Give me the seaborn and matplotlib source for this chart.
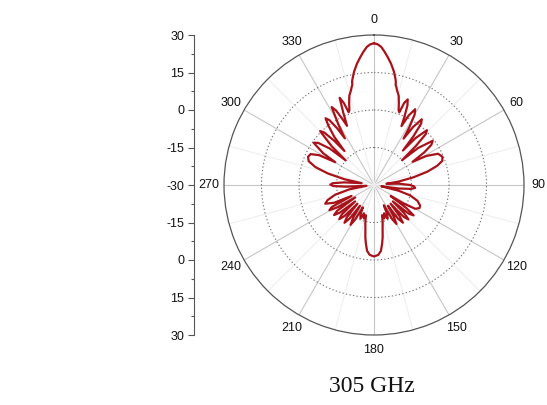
import numpy as np
import pandas as pd
import matplotlib
matplotlib.use("Agg")
import matplotlib.pyplot as plt
import seaborn as sns

# Measured radiation pattern at 305 GHz: angle (deg, clockwise from boresight) and gain (dB)
angle_right = [
    0, 1.5, 3, 4.5, 6, 8, 10, 11.5, 12, 12.2, 13, 13.5, 15.5, 17, 18.2, 19.2, 20.2, 21.5, 22.8, 24, 25,
    26.5, 28.5, 30, 31.5, 32.5, 34, 36, 37.5, 39, 40, 41.5, 44, 45.5, 47, 48.5, 50, 53, 55, 57, 59,
    61, 64, 67.5, 70.5, 73, 76, 79, 82, 84.5, 87, 90, 92, 94, 96, 98, 100,
    103, 106, 110, 114, 117, 120, 122, 123.5, 125.5, 127.5, 129.5, 131, 133, 135, 137, 138.5,
    140.5, 142.5, 144.5, 146, 148, 150, 152, 154, 156, 158, 160.5, 163, 165, 167, 169, 170.5,
    172, 174, 176.5,
]
gain_right = [
    26.7, 26.3, 25.3, 23.5, 21.6, 19.0, 16.0, 13.2, 12.0, 11.0, 10.0, 9.2, 7.0, 4.0, 1.5, 0.8, 5.0, 6.8, 4.5, 0.0, -4.0,
    1.0, 4.5, 2.5, -3.0, -8.0, -2.0, 2.5, 1.0, -5.0, -12.0, -5.0, 0.5, -1.0, -7.0, -15.0, -7.0, -0.6, -2.0, -6.0, -12.0,
    -6.0, -1.5, -0.4, -1.0, -3.5, -8.0, -14.0, -20.0, -25.0, -20.0, -15.5, -14.0, -13.5, -15.0, -20.0, -27.0,
    -20.0, -15.0, -11.5, -9.8, -9.6, -11.0, -16.0, -22.0, -14.0, -10.0, -12.0, -20.0, -13.5, -10.5, -12.5, -20.0,
    -14.0, -11.0, -13.5, -20.0, -15.0, -12.0, -14.5, -21.0, -17.0, -15.5, -18.0, -16.0, -17.5, -14.6, -12.0, -9.0,
    -6.5, -3.5, -2.0,
]
angle_left = [
    180, 183.5, 186, 188, 189.5, 191, 193, 195, 197, 199.5, 202, 204.5, 206.5, 208.5, 210.5, 212.5,
    214, 216, 218, 220, 221.5, 223.5, 225.5, 227.5, 229, 231, 233, 235, 236.5, 238.5, 240.5, 242.5,
    244, 246, 249, 252, 256, 260, 264, 266.5, 268.5, 270.5, 272.5, 275, 278.5, 281, 284, 287, 290,
    293.2, 296, 298.5, 300.5, 302, 305, 307, 309.5, 311, 312.5, 315, 316.5, 318, 319,
    320.5, 322.5, 324, 325.5, 327, 328, 329.5, 331.5, 333, 334.5, 335.5, 337, 338.5, 339.8, 340.8,
    341.8, 343, 344.5, 346.5, 347, 347.8, 348, 348.5, 350, 352, 354, 355.5, 357, 358.5, 360,
]
gain_left = [
    -1.4, -2.0, -3.5, -6.5, -9.0, -12.0, -14.6, -17.5, -16.0, -18.0, -15.5, -17.0, -20.0, -14.5, -11.5, -14.5,
    -20.0, -13.5, -10.8, -13.0, -20.0, -13.0, -10.5, -12.5, -20.0, -12.5, -10.0, -12.0, -21.0, -13.0, -9.5, -11.0,
    -20.0, -12.5, -9.1, -10.5, -14.0, -20.0, -27.0, -19.0, -13.8, -12.5, -13.5, -18.0, -25.0, -18.0, -11.0, -5.5, -2.2,
    -1.3, -1.8, -5.0, -12.0, -6.0, -0.5, -2.0, -7.0, -15.0, -7.0, 0.5, -1.0, -6.0, -12.0,
    -5.0, 0.0, 3.0, 1.5, -3.0, -8.0, -2.0, 5.5, 3.5, -1.0, -4.0, 1.5, 7.5, 5.0, 0.8,
    1.5, 4.0, 7.0, 9.2, 10.0, 11.0, 12.2, 13.2, 16.0, 19.0, 21.6, 23.5, 25.3, 26.3, 26.7,
]

theta_labels = ["0", "30", "60", "90", "120", "150", "180", "210", "240", "270", "300", "330"]
ring_levels = [-15, 0, 15]
gain_range = (-30, 30)
scale_labels = ["30", "15", "0", "-15", "-30", "-15", "0", "15", "30"]
caption = "305 GHz"

sns.set_style("white")
plt.rcParams["font.family"] = ["Liberation Sans", "DejaVu Sans"]

pattern = pd.DataFrame({
    "theta": np.deg2rad(angle_right + angle_left),
    "gain": gain_right + gain_left,
})

W, H = 547, 405
fig = plt.figure(figsize=(W / 100, H / 100), dpi=100)

# polar pattern panel
ax = fig.add_axes([224 / W, 70 / H, 300 / W, 300 / H], projection="polar")
ax.set_theta_zero_location("N")
ax.set_theta_direction(-1)
sns.lineplot(data=pattern, x="theta", y="gain", sort=False, estimator=None,
             color="#a8121a", linewidth=1.6, ax=ax)
ax.set_ylim(*gain_range)
ax.set_yticks(ring_levels)
ax.set_yticklabels([])
ax.set_xticks(np.deg2rad(np.arange(0, 360, 30)))
ax.set_xticklabels(theta_labels)
ax.set_xticks(np.deg2rad(np.arange(15, 360, 30)), minor=True)
ax.xaxis.grid(True, which="major", color="#c6c6c6", linewidth=0.8, linestyle="-")
ax.xaxis.grid(True, which="minor", color="#ededed", linewidth=0.7, linestyle="-")
ax.yaxis.grid(True, color="#777777", linewidth=0.8, linestyle=(0, (1.2, 2)))
ax.spines["polar"].set_color("#555555")
ax.spines["polar"].set_linewidth(0.9)
ax.tick_params(axis="x", which="both", length=0, pad=3.7, labelsize=9, labelcolor="#111111")
ax.set_xlabel("")
ax.set_ylabel("")

# linear gain scale along the left of the pattern
sax = fig.add_axes([194 / W, 70 / H, 0.0005, 300 / H])
sax.set_ylim(-60, 60)
sax.set_xticks([])
for side in ["top", "right", "bottom"]:
    sax.spines[side].set_visible(False)
sax.spines["left"].set_color("#555555")
sax.spines["left"].set_linewidth(0.8)
sax.set_yticks(np.arange(60, -61, -15))
sax.set_yticklabels(scale_labels)
sax.set_yticks(np.arange(-52.5, 60, 15), minor=True)
sax.tick_params(axis="y", which="major", left=True, length=4, width=0.8, pad=3,
                labelsize=9, color="#555555", labelcolor="#111111")
sax.tick_params(axis="y", which="minor", left=True, length=2.5, width=0.8, color="#555555")
sax.patch.set_alpha(0)

fig.text(372 / W, 1 - 387 / H, caption, ha="center", va="center",
         family=["Liberation Serif", "DejaVu Serif"], fontsize=17, color="#111111")

fig.savefig("out.png", dpi=100)
